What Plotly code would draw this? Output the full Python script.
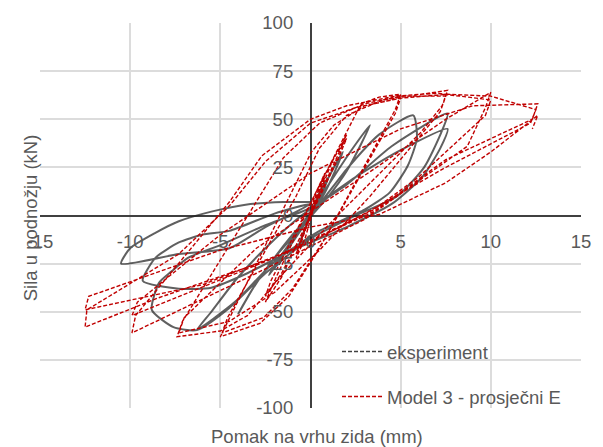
import plotly.graph_objects as go

# ---- data ----
exp_x = [0, 0.5, 1.0, 0.7, 0.2, -0.3, -0.7, -0.4, 0.0,
         0.7, 1.3, 1.8, 1.4, 0.8, 0.0, -1.0, -2.3, -1.8, -0.9, 0.0,
         1.0, 2.2, 3.3, 2.8, 2.0, 1.0, -0.5, -2.0, -3.2, -4.0, -3.4, -2.4, -1.0, 0.5,
         2.0, 3.8, 5.7, 5.9, 5.4, 4.4, 3.0, 0.5, -2.0, -4.2, -6.3, -5.5, -4.1, -2.5, -0.5,
         2.0, 4.5, 7.6, 7.2, 6.3, 4.8, 2.5, 0.0, -2.5, -4.5, -6.3, -7.6, -8.8, -8.4, -7.7, -6.8, -4.9, -2.5, 0.0,
         2.5, 5.0, 7.6, 7.2, 6.2, 4.5, 2.0, -1.0, -3.5, -5.5, -7.3, -9.3, -8.6, -7.3, -6.0, -4.5, -2.0, 0.0,
         -2.5, -4.5, -7.3, -10.5, -10.0, -8.6, -7.3, -5.5, -3.6, -1.5, 0.0]
exp_y = [0, 12, 20, 13, 4, -7, -17, -9, -1,
         14, 25, 33, 24, 12, 0, -14, -31, -23, -11, 2,
         16, 33, 47, 37, 23, 10, -6, -22, -38, -51, -41, -27, -10, 6,
         24, 42, 52, 40, 26, 12, 3, -8, -24, -45, -59.5, -50, -33, -17, 0,
         16, 36, 53, 42, 25, 10, 0, -12, -30, -48, -59.5, -58, -49, -35, -29, -22, -15, -5, 4,
         20, 34, 45, 35, 20, 6, -6, -18, -30, -37.5, -38, -34, -22, -14, -10, -8, 1, 6,
         -6, -17, -20, -25, -17, -9, -3, 2, 5.6, 7, 7]

model_x = [0, 0.5, 0.8,
           0.3, -0.3, -0.8, -0.3, 0.3, 0.8,
           0.3, -0.3, -0.8, -0.5, 1.2, 2.0,
           1.6, -0.6, -1.6, -2.5, -2.1, 0.3, 1.3, 2.0,
           1.6, -0.5, -1.6, -2.5, -2.2, 2.8, 3.8, 5.0,
           4.7, 0.5, -1.2, -2.8, -5.0, 0.05, 1.3, 3.0, 5.0,
           4.7, 0.8, -1.0, -2.6, -4.9, -4.6, -0.8, 0.5, 2.0, 4.0, 7.6,
           7.3, 6.1, 1.5, -1.5, -3.5, -5.0, -7.4, -7.1, -2.8, -1.5, 0.5, 3.0, 5.0, 7.5,
           7.2, 3.3, 0.5, -2.0, -4.5, -7.3, -7.0, -3.0, 3.5, 7.5, 10.0,
           9.7, 8.7, 3.0, -3.0, -9.9, -9.7, -4.5, -2.7, 0.0, 2.0, 4.7, 7.0, 10.0,
           9.7, 6.0, 3.5, -2.0, -9.9, -9.6, -5.0, 0.0, 5.0, 9.0, 12.6,
           12.3, 7.5, 3.5, -2.0, -8.5, -12.5, -12.4, -7.3, -4.5, -2.5, 0.0, 2.5, 5.0, 7.6, 10.0, 12.5,
           12.2, 7.3, 3.8, 0.0, -6.0, -12.5, -12.3, -5.0, 0.0, 3.8, 7.5, 10.0, 12.6, 12.3]
model_y = [0, 15, 22,
           12, -8, -22, -12, 8, 20,
           10, -7, -20, -12, 28, 42,
           33, -12, -32, -45, -36, 12, 30, 40,
           31, -10, -30, -42, -34, 58, 61.5, 63,
           55, -17, -42, -56, -63, 33, 47, 57, 61,
           53, -12, -38, -53, -61, -53, 10, 35, 52, 60, 65,
           57, 43, 0, -30, -52, -60, -63, -55, 10, 30, 48, 58, 62, 62,
           54, 10, -18, -40, -55, -61, -53, -17, 24, 50, 64,
           56, 36, -2, -30, -61, -52, 7, 31, 50, 57, 62, 63.5, 60,
           52, 20, 3, -22, -52, -45, -10, 22, 45, 57, 58,
           50, 29, 2, -22, -43, -58, -49, -20, 5, 28, 48, 56, 61, 63, 62, 55,
           48, 24, 5, -14, -36, -49, -42, -18, -6, 0.5, 17, 33, 52, 45]

x_ticks = [-15, -10, -5, 0, 5, 10, 15]
y_ticks = [-100, -75, -50, -25, 0, 25, 50, 75, 100]
series_names = ["eksperiment", "Model 3 - prosječni E"]
x_title = "Pomak na vrhu zida (mm)"
y_title = "Sila u podnožju (kN)"

FONT = "Liberation Sans, Arial, sans-serif"
GREY = "#595959"
RED = "#c00000"
FS = 18.5

fig = go.Figure()
fig.add_trace(go.Scatter(x=exp_x, y=exp_y, mode="lines", showlegend=False,
                         line=dict(color="rgba(35,35,35,0.72)", width=2, shape="spline", smoothing=0.6)))
fig.add_trace(go.Scatter(x=model_x, y=model_y, mode="lines", showlegend=False,
                         line=dict(color=RED, width=1.4, dash="4px,2px")))
# legend entries
fig.add_trace(go.Scatter(x=[None], y=[None], mode="lines", name=series_names[0], legendgroup="a",
                         line=dict(color="#404040", width=1.4, dash="4px,2px")))
fig.add_trace(go.Scatter(x=[None], y=[None], mode="lines", name=series_names[1], legendgroup="b",
                         line=dict(color=RED, width=1.4, dash="4px,2px")))

fig.update_layout(
    width=603, height=447,
    margin=dict(l=40, r=21, t=18, b=39),
    paper_bgcolor="white", plot_bgcolor="white",
    font=dict(family=FONT, size=FS, color=GREY),
    showlegend=True,
    legend=dict(x=0.549, y=0.195, xanchor="left", yanchor="top", bgcolor="rgba(0,0,0,0)",
                itemwidth=40,
                font=dict(family=FONT, size=FS, color=GREY), tracegroupgap=18),
    xaxis=dict(range=[-15, 15], tickvals=x_ticks, ticktext=[str(v) for v in x_ticks],
               anchor="free", position=0.466, showline=False, ticks="",
               zeroline=True, zerolinecolor="#404040", zerolinewidth=2,
               showgrid=True, gridcolor="#dcdcdc", gridwidth=1.5,
               tickfont=dict(family=FONT, size=FS, color=GREY)),
    yaxis=dict(range=[-100, 100], tickvals=y_ticks, ticktext=[str(v) for v in y_ticks],
               anchor="free", position=0.468, showline=False, ticks="",
               zeroline=True, zerolinecolor="#404040", zerolinewidth=2,
               showgrid=True, gridcolor="#dcdcdc", gridwidth=1.5,
               tickfont=dict(family=FONT, size=FS, color=GREY)),
    annotations=[
        dict(text=x_title, xref="paper", yref="paper", x=0.512, y=-0.074,
             xanchor="center", yanchor="middle", showarrow=False,
             font=dict(family=FONT, size=FS, color=GREY)),
        dict(text=y_title, xref="paper", yref="paper", x=-0.017, y=0.495,
             xanchor="center", yanchor="middle", showarrow=False, textangle=-90,
             font=dict(family=FONT, size=FS, color=GREY)),
    ],
)

fig.write_html("out.html")
